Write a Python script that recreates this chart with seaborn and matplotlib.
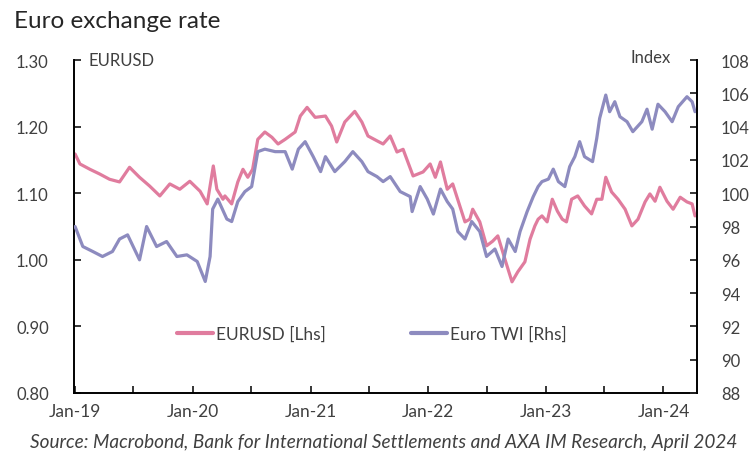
import matplotlib
matplotlib.use("Agg")
import matplotlib.pyplot as plt
import matplotlib.dates as mdates
from matplotlib.lines import Line2D
from matplotlib.ticker import FixedLocator, FormatStrFormatter
import numpy as np
import pandas as pd
import seaborn as sns

# EURUSD (left axis)
eur_dates = ["2019-01-01", "2019-01-16", "2019-02-16", "2019-03-18", "2019-04-18", "2019-05-19",
             "2019-06-19", "2019-07-20", "2019-08-20", "2019-09-21", "2019-10-22", "2019-11-22",
             "2019-12-23", "2020-01-24", "2020-02-15", "2020-03-05", "2020-03-16", "2020-04-04",
             "2020-04-10", "2020-05-01", "2020-05-20", "2020-06-05", "2020-06-20", "2020-07-05",
             "2020-07-21", "2020-08-12", "2020-09-03", "2020-09-22", "2020-10-14", "2020-11-14",
             "2020-11-30", "2020-12-21", "2021-01-15", "2021-02-16", "2021-03-07", "2021-03-23",
             "2021-04-17", "2021-05-18", "2021-06-09", "2021-06-28", "2021-07-29", "2021-08-14",
             "2021-09-05", "2021-09-26", "2021-10-15", "2021-11-15", "2021-12-16", "2022-01-07",
             "2022-01-23", "2022-02-08", "2022-03-01", "2022-03-18", "2022-04-09", "2022-04-25",
             "2022-05-10", "2022-05-19", "2022-06-10", "2022-07-01", "2022-07-20", "2022-08-05",
             "2022-08-27", "2022-09-18", "2022-10-06", "2022-10-28", "2022-11-13", "2022-11-28",
             "2022-12-08", "2022-12-20", "2023-01-05", "2023-01-21", "2023-02-06", "2023-02-21",
             "2023-03-06", "2023-03-22", "2023-04-10", "2023-05-01", "2023-05-23", "2023-06-08",
             "2023-06-24", "2023-07-06", "2023-07-24", "2023-08-13", "2023-09-04", "2023-09-25",
             "2023-10-14", "2023-11-05", "2023-11-20", "2023-12-06", "2023-12-21", "2024-01-12",
             "2024-01-31", "2024-02-22", "2024-03-14", "2024-03-30", "2024-04-08"]
eur_vals = [1.159, 1.144, 1.136, 1.129, 1.121, 1.117,
            1.139, 1.124, 1.111, 1.096, 1.114, 1.106,
            1.118, 1.103, 1.084, 1.141, 1.106, 1.091,
            1.096, 1.084, 1.117, 1.136, 1.124, 1.136,
            1.181, 1.192, 1.184, 1.174, 1.181, 1.192,
            1.216, 1.229, 1.214, 1.216, 1.201, 1.177,
            1.207, 1.223, 1.207, 1.186, 1.178, 1.174,
            1.186, 1.162, 1.166, 1.126, 1.132, 1.144,
            1.124, 1.147, 1.106, 1.114, 1.081, 1.057,
            1.061, 1.076, 1.057, 1.021, 1.028, 1.036,
            1.001, 0.967, 0.982, 0.997, 1.031, 1.051,
            1.061, 1.066, 1.057, 1.091, 1.073, 1.061,
            1.057, 1.091, 1.096, 1.081, 1.069, 1.091,
            1.091, 1.124, 1.102, 1.091, 1.076, 1.051,
            1.061, 1.087, 1.099, 1.088, 1.109, 1.088,
            1.076, 1.094, 1.087, 1.084, 1.066]

# Euro trade-weighted index (right axis)
twi_dates = ["2019-01-01", "2019-01-25", "2019-02-25", "2019-03-27", "2019-04-27", "2019-05-19",
             "2019-06-13", "2019-07-20", "2019-08-11", "2019-09-11", "2019-10-12", "2019-11-13",
             "2019-12-14", "2020-01-15", "2020-02-09", "2020-02-24", "2020-03-03", "2020-03-19",
             "2020-04-16", "2020-05-01", "2020-05-20", "2020-06-11", "2020-07-02", "2020-07-21",
             "2020-08-12", "2020-09-13", "2020-10-14", "2020-11-05", "2020-11-24", "2020-12-15",
             "2021-01-09", "2021-02-01", "2021-02-16", "2021-03-17", "2021-04-17", "2021-05-12",
             "2021-06-09", "2021-06-28", "2021-07-26", "2021-08-14", "2021-09-05", "2021-10-06",
             "2021-11-06", "2021-11-12", "2021-12-07", "2021-12-29", "2022-01-17", "2022-02-08",
             "2022-03-01", "2022-03-18", "2022-04-03", "2022-04-25", "2022-05-16", "2022-06-10",
             "2022-07-01", "2022-07-27", "2022-08-18", "2022-09-06", "2022-09-28", "2022-10-13",
             "2022-11-04", "2022-11-23", "2022-12-08", "2022-12-20", "2023-01-09", "2023-01-24",
             "2023-02-09", "2023-03-01", "2023-03-16", "2023-04-01", "2023-04-16", "2023-05-01",
             "2023-05-26", "2023-06-08", "2023-06-17", "2023-07-06", "2023-07-18", "2023-08-03",
             "2023-08-19", "2023-09-10", "2023-09-28", "2023-10-26", "2023-11-11", "2023-11-27",
             "2023-12-15", "2024-01-06", "2024-01-28", "2024-02-16", "2024-03-14", "2024-03-30",
             "2024-04-08"]
twi_vals = [98.0, 96.8, 96.5, 96.2, 96.5, 97.25,
            97.5, 96.0, 98.0, 96.8, 97.1, 96.2,
            96.3, 95.9, 94.7, 96.2, 99.05, 99.65,
            98.45, 98.3, 99.5, 100.1, 100.4, 102.5,
            102.65, 102.5, 102.5, 101.45, 102.65, 103.1,
            102.2, 101.3, 102.2, 101.3, 101.9, 102.5,
            101.9, 101.3, 101.0, 100.7, 101.0, 100.1,
            99.8, 98.9, 100.4, 99.65, 98.75, 100.25,
            99.5, 99.05, 97.7, 97.25, 98.3, 97.7,
            96.2, 96.65, 95.6, 97.25, 96.5, 97.7,
            98.9, 99.8, 100.4, 100.7, 100.85, 101.45,
            100.7, 100.4, 101.6, 102.2, 103.1, 102.2,
            101.9, 103.3, 104.5, 105.9, 104.9, 105.5,
            104.6, 104.3, 103.7, 104.3, 105.05, 103.85,
            105.35, 104.9, 104.3, 105.2, 105.8, 105.5,
            104.9]

eur_ticks = [0.80, 0.90, 1.00, 1.10, 1.20, 1.30]
twi_ticks = [88, 90, 92, 94, 96, 98, 100, 102, 104, 106, 108]

pink = "#E07C9E"
purple = "#8D8BBF"
grey = "#404040"

sns.set_style("ticks")
plt.rcParams["font.family"] = ["Lato", "DejaVu Sans"]

eur = pd.DataFrame({"date": pd.to_datetime(eur_dates), "value": eur_vals})
twi = pd.DataFrame({"date": pd.to_datetime(twi_dates), "value": twi_vals})

fig = plt.figure(figsize=(7.53, 4.56), dpi=100)
ax = fig.add_axes([0.098, 0.136, 0.828, 0.730])
ax2 = ax.twinx()

sns.lineplot(data=eur, x="date", y="value", ax=ax, color=pink, lw=2.3)
sns.lineplot(data=twi, x="date", y="value", ax=ax2, color=purple, lw=2.3)

ax.set_xlim(pd.Timestamp("2018-12-28"), pd.Timestamp("2024-04-15"))
ax.set_ylim(0.80, 1.30)
ax2.set_ylim(88, 108)
ax.yaxis.set_major_locator(FixedLocator(eur_ticks))
ax.yaxis.set_major_formatter(FormatStrFormatter("%.2f"))
ax2.yaxis.set_major_locator(FixedLocator(twi_ticks))

ax.xaxis.set_major_locator(mdates.MonthLocator(bymonth=[1]))
ax.xaxis.set_minor_locator(mdates.MonthLocator(bymonth=[7]))
ax.xaxis.set_major_formatter(mdates.DateFormatter("%b-%y"))

for a in (ax, ax2):
    a.set_xlabel("")
    a.set_ylabel("")
    a.spines["top"].set_visible(False)
    for s in a.spines.values():
        s.set_linewidth(1.4)
        s.set_color("black")
ax.spines["right"].set_visible(False)
ax2.spines["left"].set_visible(False)
ax2.spines["bottom"].set_visible(False)

ax.tick_params(axis="x", which="both", direction="in", length=5, width=1.3, pad=7,
               labelsize=12.5, labelcolor=grey)
ax.tick_params(axis="y", direction="in", length=5, width=1.3, pad=18,
               labelsize=12, labelcolor=grey)
ax2.tick_params(axis="y", direction="in", length=5, width=1.3, pad=17,
                labelsize=12, labelcolor=grey)

ax.text(0.023, 1.0, "EURUSD", transform=ax.transAxes, fontsize=12, color=grey,
        ha="left", va="center")
ax2.text(0.958, 1.01, "Index", transform=ax2.transAxes, fontsize=12, color=grey,
         ha="right", va="center")

handles = [Line2D([], [], color=pink, lw=3), Line2D([], [], color=purple, lw=3)]
ax2.legend(handles, ["EURUSD [Lhs]", "Euro TWI [Rhs]"], loc="center left",
           bbox_to_anchor=(0.14, 0.177), ncol=2, frameon=False, fontsize=12.5,
           handlelength=2.1, handletextpad=0.15, columnspacing=4.9, labelcolor=grey)

fig.text(0.019, 0.952, "Euro exchange rate", fontsize=17.5, color="#262626",
         ha="left", va="center")
fig.text(0.04, 0.03, "Source: Macrobond, Bank for International Settlements and AXA IM Research, April 2024",
         fontsize=13.7, style="italic", color=grey, ha="left", va="center")

fig.savefig("out.png", dpi=100)
